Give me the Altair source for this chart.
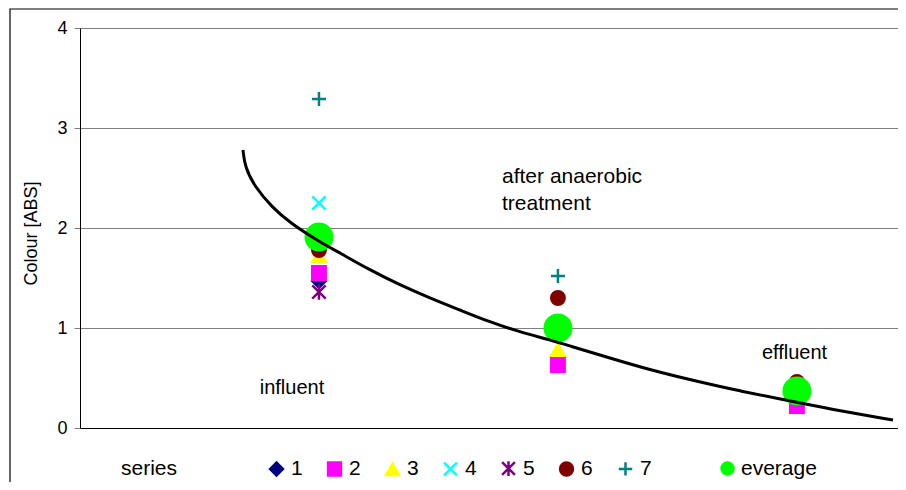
import altair as alt
import pandas as pd

# ---- data ----
stages = [1, 2, 3]  # influent, after anaerobic treatment, effluent
series_names = ["1", "2", "3", "4", "5", "6", "7"]
s1 = [1.47, 0.71, 0.35]
s2 = [1.55, 0.63, 0.22]
s3 = [1.72, 0.78, 0.38]
s4 = [2.25, 1.05, 0.40]
s5 = [1.36, 0.98, 0.36]
s6 = [1.78, 1.30, 0.46]
s7 = [3.29, 1.52, 0.42]
average = [1.91, 1.00, 0.37]

curve_x = [0.682, 0.690, 0.732, 0.803, 0.879, 1.004, 1.088, 1.213, 1.339, 1.464, 1.590,
           1.715, 1.841, 1.967, 2.050, 2.176, 2.385, 2.594, 2.762, 2.929, 3.138, 3.402]
curve_y = [2.78, 2.61, 2.41, 2.21, 2.05, 1.86, 1.75, 1.58, 1.43, 1.30, 1.18,
           1.06, 0.96, 0.88, 0.82, 0.73, 0.58, 0.46, 0.37, 0.29, 0.19, 0.08]

labels_text = ["influent", "after anaerobic\ntreatment", "effluent"]
labels_x = [0.887, 1.766, 2.99]
labels_y = [0.40, 2.51, 0.75]
labels_align = ["center", "left", "center"]

series_colors = ["#000080", "#FF00FF", "#FFFF00", "#00FFFF", "#800080", "#800000", "#008080"]
series_shapes = ["diamond", "square", "triangle-up",
                 "M-1,-1L1,1M-1,1L1,-1",
                 "M-1,-1L1,1M-1,1L1,-1M0,-1.15L0,1.15",
                 "circle",
                 "M-1.05,0L1.05,0M0,-1.05L0,1.05"]

# ---- tables ----
all_series = [s1, s2, s3, s4, s5, s6, s7]
rows = []
for name, vals in zip(series_names, all_series):
    for st, v in zip(stages, vals):
        rows.append({"stage": st, "value": v, "series": name})
pts = pd.DataFrame(rows)
avg_df = pd.DataFrame({"stage": stages, "value": average, "kind": ["everage"] * 3})
curve_df = pd.DataFrame({"x": curve_x, "y": curve_y, "i": list(range(len(curve_x)))})
lab_df = pd.DataFrame({"x": labels_x, "y": labels_y, "t": labels_text, "a": labels_align})

FONT = "Liberation Sans"
xscale = alt.Scale(domain=[0, 3.423], nice=False, zero=False)
yscale = alt.Scale(domain=[0, 4], nice=False)

x_axis = alt.Axis(title=None, labels=False, ticks=False, grid=False,
                  domainColor="#000000", domainWidth=1)
y_axis = alt.Axis(title="Colour [ABS]", values=[0, 1, 2, 3, 4], format="d", grid=True,
                  gridColor="#808080", gridWidth=1, domainColor="#000000",
                  tickColor="#808080", tickSize=6, labelPadding=7,
                  labelFont=FONT, labelFontSize=18, labelColor="#000000",
                  titleFont=FONT, titleFontSize=18, titleFontWeight="normal",
                  titleColor="#000000", titleX=-40, titleY=205)

series_legend = alt.Legend(title="series", orient="none", legendX=41, legendY=430,
                           direction="horizontal", titleOrient="left",
                           titlePadding=88, titleFont=FONT, titleFontSize=21,
                           titleFontWeight="normal", titleColor="#000000",
                           labelFont=FONT, labelFontSize=21, labelColor="#000000",
                           labelOffset=4, columnPadding=20, symbolSize=165,
                           symbolStrokeWidth=2.5)

sc_color = alt.Scale(domain=series_names, range=series_colors)
sc_shape = alt.Scale(domain=series_names, range=series_shapes)

frame = alt.Chart(pd.DataFrame({"d": [0]})).mark_rect(
    fill="transparent", stroke="#000000", strokeWidth=1.2, clip=False
).encode(x=alt.value(-70), x2=alt.value(860), y=alt.value(-19), y2=alt.value(520))

points = alt.Chart(pts).mark_point(opacity=1, strokeWidth=2.5, size=180, fillOpacity=1).encode(
    x=alt.X("stage:Q", scale=xscale, axis=x_axis),
    y=alt.Y("value:Q", scale=yscale, axis=y_axis),
    fill=alt.Fill("series:N", scale=sc_color, legend=series_legend),
    stroke=alt.Stroke("series:N", scale=sc_color, legend=series_legend),
    shape=alt.Shape("series:N", scale=sc_shape, legend=series_legend),
)

avg_pts = alt.Chart(avg_df).mark_point(filled=True, shape="circle", size=840, opacity=1).encode(
    x=alt.X("stage:Q", scale=xscale),
    y=alt.Y("value:Q", scale=yscale),
    color=alt.Color("kind:N", scale=alt.Scale(domain=["everage"], range=["#00FF00"]),
                    legend=alt.Legend(title=None, orient="none", legendX=637, legendY=430,
                                      labelFont=FONT, labelFontSize=21, labelColor="#000000",
                                      labelOffset=3, symbolSize=210)),
)

curve = alt.Chart(curve_df).mark_line(color="#000000", strokeWidth=3, interpolate="basis").encode(
    x=alt.X("x:Q", scale=xscale),
    y=alt.Y("y:Q", scale=yscale),
    order="i:Q",
)

text_center = alt.Chart(lab_df[lab_df["a"] == "center"]).mark_text(
    font=FONT, fontSize=20, color="#000000", baseline="middle", align="center").encode(
    x=alt.X("x:Q", scale=xscale), y=alt.Y("y:Q", scale=yscale), text="t:N")
text_left = alt.Chart(lab_df[lab_df["a"] == "left"]).mark_text(
    font=FONT, fontSize=21, color="#000000", baseline="middle", align="left",
    lineBreak="\n", lineHeight=27).encode(
    x=alt.X("x:Q", scale=xscale), y=alt.Y("y:Q", scale=yscale), text="t:N")

chart = alt.layer(frame, points, avg_pts, curve, text_center, text_left).properties(
    width=818, height=400,
    autosize=alt.AutoSizeParams(type="none"),
    padding={"left": 72, "top": 20, "right": 0, "bottom": 54},
    background="#FFFFFF",
).configure_view(strokeWidth=0)

chart.save("out.html", embed_options={"renderer": "svg", "actions": False})
